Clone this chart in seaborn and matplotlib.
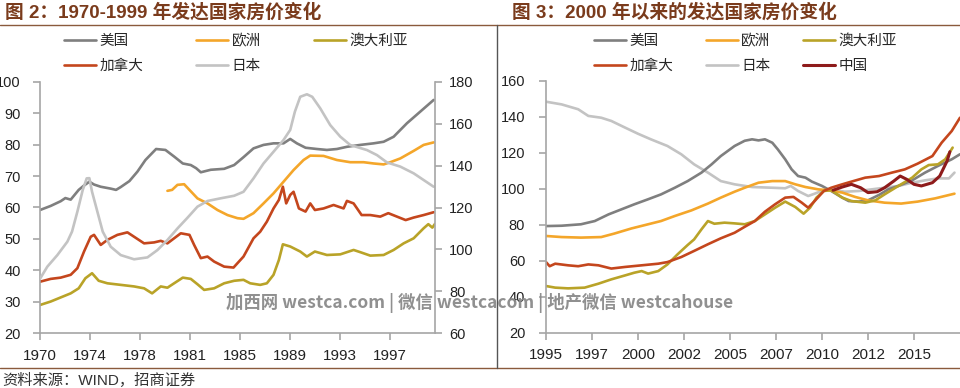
import numpy as np
import matplotlib
matplotlib.use("Agg")
import matplotlib.pyplot as plt
import seaborn as sns
from matplotlib.lines import Line2D

# ---------- 图2: 1970-1999 ----------
us_a_x = [1970.0, 1970.8, 1971.55, 1971.9, 1972.3, 1972.9, 1973.3, 1973.7, 1974.05, 1974.55,
          1975.3, 1975.7, 1976.05, 1976.7, 1977.3, 1977.9, 1978.7, 1979.4, 1980.05, 1980.7,
          1981.3, 1981.7, 1982.05, 1982.8, 1983.8, 1984.55, 1985.25, 1986.0, 1986.75, 1987.5,
          1988.25, 1988.75, 1989.25, 1989.9, 1990.75, 1991.5, 1992.25, 1993.0, 1994.0, 1995.0,
          1995.75, 1996.5, 1997.5, 1998.5, 1999.5]
us_a_y = [59.2, 60.5, 62, 63, 62.5, 65.6, 67, 68.2, 67.3, 66.6,
          66, 65.6, 66.5, 68.4, 71.4, 75.1, 78.6, 78.3, 76.2, 74,
          73.5, 72.5, 71.2, 72, 72.3, 73.5, 76, 78.8, 79.9, 80.4,
          80.4, 81.8, 80.4, 79, 78.6, 78.3, 78.6, 79.3, 79.9, 80.4,
          80.9, 82.5, 86.8, 90.5, 94.2]

eu_a_x = [1979.55, 1979.9, 1980.3, 1980.8, 1981.2, 1981.8, 1982.55, 1983.3, 1984.05, 1984.8,
          1985.25, 1986.0, 1986.75, 1987.5, 1988.25, 1989.0, 1989.75, 1990.25, 1991.25, 1992.25,
          1993.25, 1994.25, 1995.0, 1995.75, 1996.25, 1997.0, 1998.0, 1998.75, 1999.5]
eu_a_y = [65.3, 65.6, 67.2, 67.4, 65.6, 62.9, 61.3, 59.2, 57.6, 56.6,
          56.4, 58.2, 61.3, 64.5, 68.2, 71.9, 75.1, 76.5, 76.4, 75.1,
          74.4, 74.4, 74, 73.7, 74.4, 75.6, 78, 79.9, 80.7]

au_a_x = [1970.0, 1970.8, 1971.55, 1972.3, 1972.9, 1973.4, 1973.9, 1974.4, 1975.05, 1976.05,
          1977.05, 1977.8, 1978.4, 1979.05, 1979.55, 1980.05, 1980.7, 1981.3, 1981.8, 1982.3,
          1983.05, 1983.8, 1984.55, 1985.25, 1985.75, 1986.5, 1987.0, 1987.5, 1987.9, 1988.2,
          1988.75, 1989.5, 1990.0, 1990.6, 1991.5, 1992.5, 1993.5, 1994.0, 1994.75, 1995.75,
          1996.5, 1997.25, 1998.0, 1998.75, 1999.1, 1999.4, 1999.6]
au_a_y = [29, 30.1, 31.4, 32.7, 34.3, 37.5, 39.1, 36.7, 35.9, 35.4,
          34.9, 34.3, 32.7, 34.9, 34.5, 35.9, 37.7, 37.3, 35.6, 33.8,
          34.3, 35.9, 36.7, 37, 35.9, 35.4, 35.9, 38.6, 43.3, 48.3,
          47.6, 46, 44.4, 46, 44.9, 45.1, 46.5, 45.8, 44.7, 44.9,
          46.5, 48.6, 50.2, 53.4, 54.7, 53.6, 54.8]

ca_a_x = [1970.0, 1970.8, 1971.55, 1972.3, 1972.8, 1973.3, 1973.8, 1974.05, 1974.55, 1975.05,
          1975.8, 1976.55, 1977.05, 1977.8, 1978.55, 1979.05, 1979.55, 1980.05, 1980.55, 1981.2,
          1981.55, 1982.05, 1982.55, 1983.05, 1983.8, 1984.5, 1985.25, 1986.0, 1986.5, 1987.0,
          1987.5, 1987.9, 1988.2, 1988.45, 1988.75, 1989.0, 1989.4, 1989.9, 1990.25, 1990.6,
          1991.25, 1992.0, 1992.75, 1993.0, 1993.5, 1994.1, 1994.75, 1995.5, 1996.1, 1996.75,
          1997.4, 1998.0, 1998.75, 1999.5]
ca_a_y = [36.4, 37.3, 37.7, 38.6, 40.7, 46, 50.7, 51.3, 48.1, 49.7,
          51.3, 52.1, 50.7, 48.6, 48.9, 49.4, 48.6, 50.2, 51.8, 51.3,
          48.1, 43.9, 44.4, 42.8, 41.2, 40.9, 44.4, 50.2, 52.3, 55.5,
          59.7, 62.4, 66.6, 61.3, 64, 65, 59.7, 58.7, 61.3, 59.2,
          59.7, 60.8, 59.7, 62.1, 61.3, 57.6, 57.6, 57.1, 58.2, 57.1,
          56, 56.8, 57.6, 58.5]

# Japan is on the right-hand axis
jp_a_x = [1970.0, 1970.55, 1971.3, 1972.05, 1972.4, 1972.8, 1973.2, 1973.5, 1973.7, 1973.9,
          1974.3, 1974.7, 1975.3, 1976.05, 1977.05, 1978.05, 1978.8, 1979.55, 1980.3, 1981.05,
          1981.8, 1982.55, 1983.55, 1984.55, 1985.25, 1986.0, 1986.75, 1987.5, 1988.25, 1988.75,
          1989.1, 1989.5, 1990.0, 1990.4, 1991.0, 1991.75, 1992.5, 1993.25, 1994.5, 1995.25,
          1996.0, 1997.0, 1998.0, 1998.75, 1999.5]
jp_a_y = [86, 91.8, 97.3, 103.7, 108.5, 118, 128.3, 133.9, 134, 127.5,
          118, 108.5, 101.3, 97.3, 95.3, 96.2, 99.7, 104.5, 110, 115.1,
          120.4, 123.1, 124.4, 125.6, 127.5, 133.9, 141, 146.6, 152.2, 157,
          165.7, 172.8, 174, 172.8, 167.3, 159.3, 153.8, 149.8, 147.4, 145,
          141.5, 139.5, 136.3, 133.1, 129.9]

ticks_a = ["1970", "1974", "1978", "1981", "1985", "1989", "1993", "1997"]

# ---------- 图3: 2000年以来 ----------
us_b_x = [1995.0, 1995.85, 1996.9, 1997.65, 1998.4, 1999.1, 1999.8, 2000.55, 2001.25, 2002.0,
          2002.7, 2003.45, 2004.0, 2004.5, 2005.25, 2005.8, 2006.2, 2006.55, 2006.9, 2007.3,
          2007.6, 2008.0, 2008.35, 2008.7, 2009.1, 2009.45, 2010.0, 2010.5, 2011.1, 2011.45,
          2012.0, 2012.5, 2013.1, 2013.6, 2014.15, 2014.9, 2015.6, 2016.3, 2017.05, 2017.5]
us_b_y = [79.4, 79.6, 80.4, 82.2, 85.9, 88.7, 91.5, 94.3, 97, 100.7,
          104.4, 109.1, 113.7, 118.3, 123.9, 126.8, 127.6, 127, 127.6, 125.7,
          122, 116.5, 110.9, 107.2, 106.3, 104.1, 101.7, 98.9, 95.2, 93.3,
          93, 93.7, 96.7, 99.8, 101.7, 104.8, 109.1, 112.8, 116.5, 119.3]

eu_b_x = [1995.0, 1995.85, 1996.9, 1998.0, 1998.7, 1999.65, 2000.55, 2001.25, 2002.0, 2002.9,
          2003.8, 2004.5, 2005.25, 2005.8, 2006.55, 2007.3, 2008.0, 2008.55, 2009.1, 2009.8,
          2010.35, 2011.1, 2011.8, 2012.5, 2013.4, 2014.3, 2015.2, 2016.15, 2017.2]
eu_b_y = [73.9, 73.3, 73, 73.3, 75.2, 78.1, 80.4, 82.2, 85, 88.1,
          91.9, 95.2, 98.5, 100.7, 103.5, 104.4, 104.4, 102.6, 101.1, 99.8,
          99.3, 98, 95.6, 93.7, 92.4, 91.9, 93, 94.8, 97.4]

au_b_x = [1995.0, 1995.5, 1996.2, 1997.1, 1997.85, 1998.55, 1999.3, 1999.8, 2000.2, 2000.55,
          2001.1, 2001.6, 2002.15, 2002.7, 2003.05, 2003.45, 2003.8, 2004.15, 2004.7, 2005.25,
          2005.8, 2006.35, 2006.9, 2007.45, 2008.0, 2008.55, 2009.0, 2009.35, 2009.7, 2010.1,
          2010.5, 2011.1, 2011.6, 2012.35, 2012.9, 2013.4, 2014.15, 2014.9, 2015.4, 2015.8,
          2016.3, 2016.7, 2017.1]
au_b_y = [46.1, 45.2, 44.8, 45.2, 47.4, 49.8, 52, 53.5, 54.4, 53,
          54.4, 58.1, 63.7, 68.9, 72, 77.6, 82.2, 80.7, 81.3, 80.9,
          80.4, 82.2, 85.9, 89.6, 93, 90, 86.3, 89.6, 95.2, 98.9,
          99.3, 95.2, 93.3, 92.4, 93.7, 97, 101.7, 106.3, 110.9, 113.3,
          113.7, 116.5, 123]

ca_b_x = [1995.0, 1995.2, 1995.5, 1996.2, 1996.75, 1997.3, 1997.85, 1998.55, 1999.3, 2000.2,
          2001.1, 2001.6, 2002.35, 2003.05, 2003.8, 2004.5, 2005.25, 2005.8, 2006.35, 2006.9,
          2007.45, 2008.0, 2008.45, 2008.9, 2009.25, 2009.6, 2010.1, 2010.5, 2011.1, 2011.6,
          2012.35, 2013.1, 2013.8, 2014.5, 2015.2, 2016.0, 2016.5, 2017.05, 2017.5]
ca_b_y = [59.4, 57.1, 58.5, 57.6, 57.1, 58.1, 57.6, 55.8, 56.7, 57.6,
          58.5, 59.4, 62.2, 65.6, 69.3, 72.6, 75.7, 79, 82.2, 87.4,
          91.5, 95.2, 95.6, 92.4, 89.6, 93.3, 98.9, 100.7, 102.6, 104.1,
          106.3, 107.2, 109.1, 110.9, 114.1, 118.3, 125.7, 132.2, 139.6]

jp_b_x = [1995.0, 1995.85, 1996.75, 1997.3, 1998.0, 1998.55, 1999.3, 2000.0, 2000.7, 2001.6,
          2002.35, 2003.05, 2003.8, 2004.5, 2005.25, 2006.2, 2007.3, 2008.0, 2008.3, 2008.7,
          2009.25, 2009.6, 2010.2, 2010.7, 2011.25, 2012.0, 2012.7, 2013.4, 2014.15, 2014.9,
          2015.6, 2016.3, 2016.9, 2017.2]
jp_b_y = [148.5, 147, 144.3, 140.6, 139.6, 137.8, 134.1, 130.7, 127.6, 123.9,
          119.3, 113.7, 109.1, 104.4, 102.6, 101.1, 100.7, 100.4, 101.7, 98.9,
          96.1, 97.4, 99.8, 99.3, 98.5, 98.9, 99.8, 100.7, 101.7, 103.5,
          104.8, 105.9, 105.9, 109.1]

cn_b_x = [2010.6, 2011.1, 2011.6, 2012.1, 2012.5, 2013.0, 2013.4, 2013.9, 2014.25, 2014.6,
          2015.0, 2015.4, 2016.0, 2016.4, 2016.8, 2016.95]
cn_b_y = [99.3, 101.1, 102.6, 100.7, 98, 98.5, 100.7, 104.4, 107.2, 105.4,
          102.6, 101.7, 103.5, 107.2, 115.6, 120.7]

ticks_b = ["1995", "1997", "2000", "2002", "2005", "2007", "2010", "2012", "2015"]

colors = {"美国": "#7f7f7f", "欧洲": "#f4a62a", "澳大利亚": "#b9a328",
          "加拿大": "#c4461d", "日本": "#c3c3c3", "中国": "#8e1b1b"}

sns.set_style("white")
plt.rcParams["font.family"] = ["Liberation Sans", "Noto Sans CJK SC", "DejaVu Sans"]

W, H = 960, 388
fig = plt.figure(figsize=(9.6, 3.88), dpi=100)
ax1 = fig.add_axes([40 / W, 54.7 / H, 395 / W, 251.6 / H])
ax1r = ax1.twinx()
ax2 = fig.add_axes([546 / W, 55 / H, 414 / W, 252 / H])

lw = 1.9
sns.lineplot(x=us_a_x, y=us_a_y, ax=ax1, color=colors["美国"], lw=lw, label="美国")
sns.lineplot(x=eu_a_x, y=eu_a_y, ax=ax1, color=colors["欧洲"], lw=lw, label="欧洲")
sns.lineplot(x=au_a_x, y=au_a_y, ax=ax1, color=colors["澳大利亚"], lw=lw, label="澳大利亚")
sns.lineplot(x=ca_a_x, y=ca_a_y, ax=ax1, color=colors["加拿大"], lw=lw, label="加拿大")
sns.lineplot(x=jp_a_x, y=jp_a_y, ax=ax1r, color=colors["日本"], lw=lw, label="日本")

sns.lineplot(x=jp_b_x, y=jp_b_y, ax=ax2, color=colors["日本"], lw=lw, label="日本")
sns.lineplot(x=us_b_x, y=us_b_y, ax=ax2, color=colors["美国"], lw=lw, label="美国")
sns.lineplot(x=eu_b_x, y=eu_b_y, ax=ax2, color=colors["欧洲"], lw=lw, label="欧洲")
sns.lineplot(x=au_b_x, y=au_b_y, ax=ax2, color=colors["澳大利亚"], lw=lw, label="澳大利亚")
sns.lineplot(x=ca_b_x, y=ca_b_y, ax=ax2, color=colors["加拿大"], lw=lw, label="加拿大")
sns.lineplot(x=cn_b_x, y=cn_b_y, ax=ax2, color=colors["中国"], lw=lw + 0.3, label="中国")

for a in (ax1, ax1r, ax2):
    if a.get_legend() is not None:
        a.get_legend().remove()
    a.set_xlabel("")
    a.set_ylabel("")

spine_c = "#a6a6a6"
ax1.set_xlim(1970, 1999.6)
ax1.set_ylim(20, 100)
ax1.set_yticks(np.arange(20, 101, 10))
ax1.set_xticks(1970 + 3.75 * np.arange(len(ticks_a)))
ax1.set_xticklabels(ticks_a)
ax1r.set_ylim(60, 180)
ax1r.set_yticks(np.arange(60, 181, 20))

ax2.set_xlim(1995, 2017.5)
ax2.set_ylim(20, 160)
ax2.set_yticks(np.arange(20, 161, 20))
ax2.set_xticks(1995 + 2.5 * np.arange(len(ticks_b)))
ax2.set_xticklabels(ticks_b)

for a in (ax1, ax1r, ax2):
    for s in a.spines.values():
        s.set_visible(False)
        s.set_color(spine_c)
        s.set_linewidth(1.2)
ax1.spines["left"].set_visible(True)
ax1.spines["bottom"].set_visible(True)
ax1r.spines["right"].set_visible(True)
ax2.spines["left"].set_visible(True)
ax2.spines["bottom"].set_visible(True)

ax1.tick_params(axis="y", left=True, direction="out", length=5, width=1.2, color=spine_c,
                labelsize=10.5, labelcolor="#222222", pad=9)
ax1.tick_params(axis="x", bottom=True, direction="out", length=5, width=1.2, color=spine_c,
                labelsize=11, labelcolor="#222222", pad=6)
ax1r.tick_params(axis="y", right=True, direction="out", length=5, width=1.2, color=spine_c,
                 labelsize=10.5, labelcolor="#222222", pad=5)
ax2.tick_params(axis="y", left=True, direction="out", length=5, width=1.2, color=spine_c,
                labelsize=10.5, labelcolor="#222222", pad=10)
ax2.tick_params(axis="x", bottom=True, direction="out", length=5, width=1.2, color=spine_c,
                labelsize=11, labelcolor="#222222", pad=6)

# legends, row-major order via column-major list
h1, l1 = ax1.get_legend_handles_labels()
h2, l2 = ax1r.get_legend_handles_labels()
hd = dict(zip(l1 + l2, h1 + h2))
order_a = ["美国", "加拿大", "欧洲", "日本", "澳大利亚"]
fig.legend([hd[k] for k in order_a], order_a, loc="upper left",
           bbox_to_anchor=(64 / W, (H - 34) / H), ncol=3, frameon=False,
           fontsize=10.5, handlelength=2.2, handletextpad=0.25, columnspacing=3.6,
           labelspacing=0.75, borderpad=0, borderaxespad=0)

hb, lb = ax2.get_legend_handles_labels()
hd2 = dict(zip(lb, hb))
order_b = ["美国", "加拿大", "欧洲", "日本", "澳大利亚", "中国"]
fig.legend([hd2[k] for k in order_b], order_b, loc="upper left",
           bbox_to_anchor=(594 / W, (H - 34) / H), ncol=3, frameon=False,
           fontsize=10.5, handlelength=2.2, handletextpad=0.25, columnspacing=2.2,
           labelspacing=0.75, borderpad=0, borderaxespad=0)

# titles
title_c = "#7a3b1c"
fig.text(5 / W, (H - 12) / H, "图 2：1970-1999 年发达国家房价变化", fontsize=13.5,
         fontweight="bold", color=title_c, va="center", ha="left")
fig.text(512 / W, (H - 12) / H, "图 3：2000 年以来的发达国家房价变化", fontsize=13.5,
         fontweight="bold", color=title_c, va="center", ha="left")

# frame lines
line_c = "#8a5a3c"
fig.add_artist(Line2D([0, 1], [(H - 25) / H] * 2, color=line_c, lw=1))
fig.add_artist(Line2D([0, 1], [(H - 368) / H] * 2, color=line_c, lw=1))
fig.add_artist(Line2D([497 / W] * 2, [(H - 368) / H, (H - 25) / H], color="#555555", lw=1))

# source and watermark
fig.text(2 / W, (H - 380) / H, "资料来源：WIND，招商证券", fontsize=11, color="#333333",
         va="center", ha="left")
fig.text(480 / W, (H - 303) / H, "加西网 westca.com | 微信 westcacom | 地产微信 westcahouse",
         fontsize=12.5, fontweight="bold", color="#8a8a8a", alpha=0.95,
         family=["Noto Sans CJK SC", "DejaVu Sans"], va="center", ha="center")

fig.savefig("out.png", dpi=100)
